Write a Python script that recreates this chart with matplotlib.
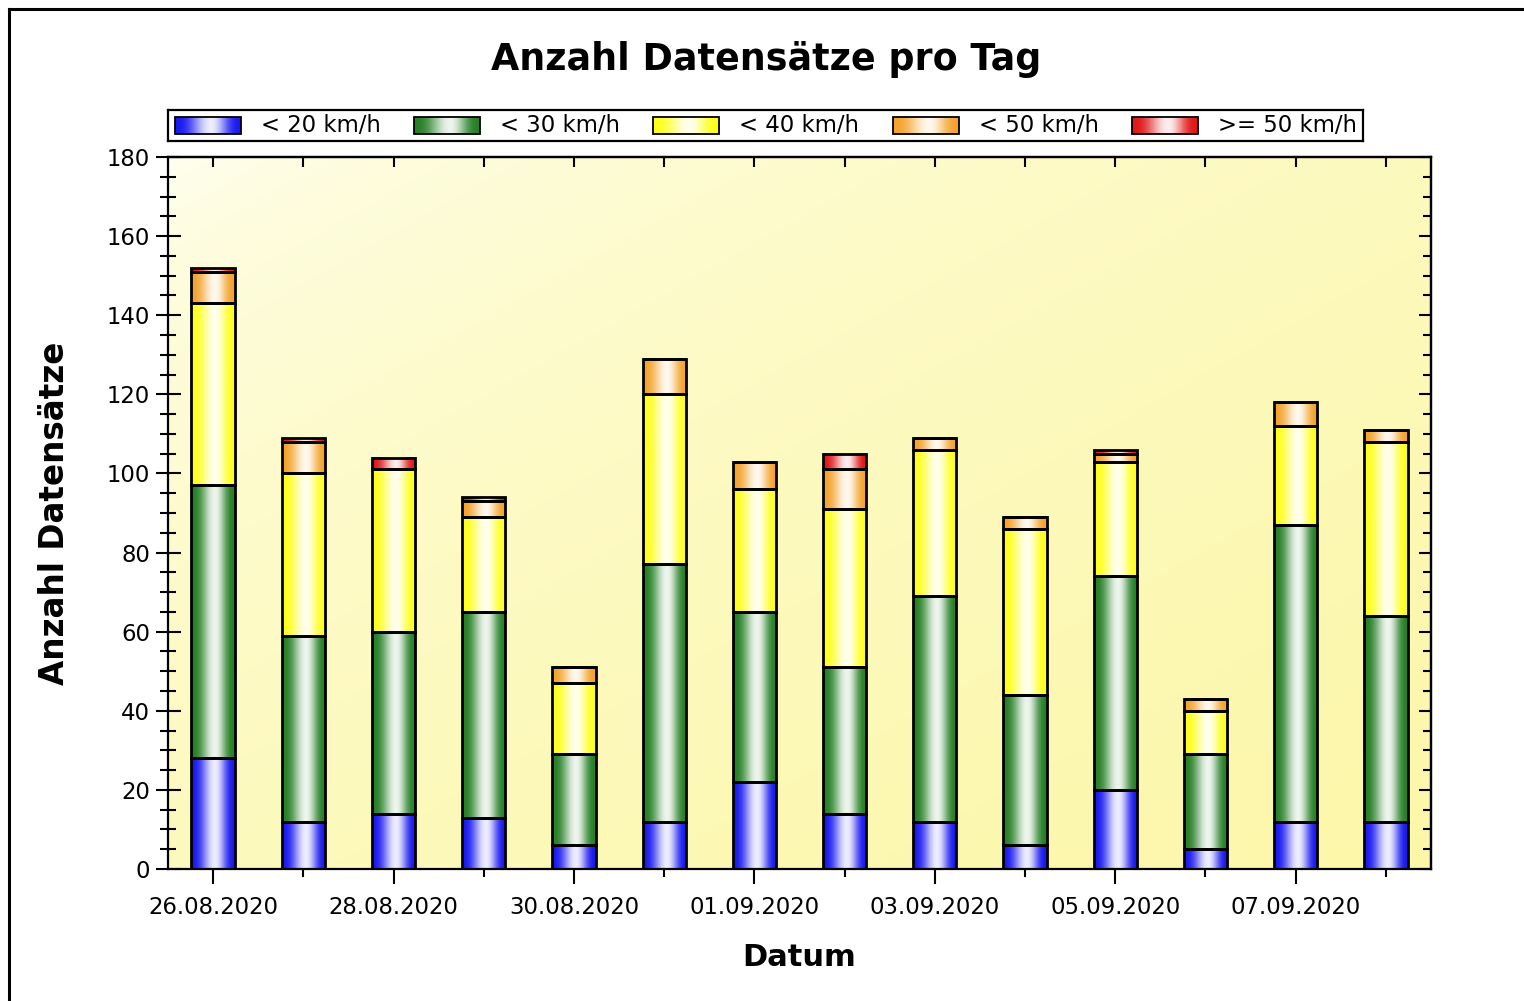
"""
Anzahl Datensaetze pro Tag - stacked bars with cylinder shading
"""

import numpy as np
import matplotlib
matplotlib.use('Agg')
import matplotlib.pyplot as plt
from matplotlib.colors import to_rgb
from matplotlib.lines import Line2D
from matplotlib.patches import Rectangle
from matplotlib.ticker import MultipleLocator

dates = ['26.08.2020', '27.08.2020', '28.08.2020', '29.08.2020', '30.08.2020',
         '31.08.2020', '01.09.2020', '02.09.2020', '03.09.2020', '04.09.2020',
         '05.09.2020', '06.09.2020', '07.09.2020', '08.09.2020']

series_labels = ['< 20 km/h', '< 30 km/h', '< 40 km/h', '< 50 km/h', '>= 50 km/h']

v_lt20 = [28, 12, 14, 13, 6, 12, 22, 14, 12, 6, 20, 5, 12, 12]
v_lt30 = [69, 47, 46, 52, 23, 65, 43, 37, 57, 38, 54, 24, 75, 52]
v_lt40 = [46, 41, 41, 24, 18, 43, 31, 40, 37, 42, 29, 11, 25, 44]
v_lt50 = [8, 8, 0, 4, 4, 9, 7, 10, 3, 3, 2, 3, 6, 3]
v_ge50 = [1, 1, 3, 1, 0, 0, 0, 4, 0, 0, 1, 0, 0, 0]

edge_colors = ['#1a1af0', '#268026', '#ffff1e', '#f4a42e', '#e01818']


def cylinder_strip(edge, n=64):
    """horizontal gradient: coloured edges, white highlight a bit right of centre"""
    t = np.linspace(0, 1, n)
    s = np.where(t < 0.55, (0.55 - t) / 0.55, (t - 0.55) / 0.45)
    f = 0.92 * np.cos(s * np.pi / 2) ** 2.6
    e = np.array(to_rgb(edge))
    rgb = e[None, :] * (1 - f[:, None]) + f[:, None]
    return rgb[None, :, :]


W, H = 1524, 1001
fig = plt.figure(figsize=(W / 100, H / 100), dpi=100)
ax = fig.add_axes([168 / W, 1 - 869 / H, (1431 - 168) / W, (869 - 157) / H])

# background gradient, light top-left to yellow bottom-right
gx, gy = np.meshgrid(np.linspace(0, 1, 200), np.linspace(0, 1, 200))
g = np.sqrt(np.clip((gx + gy) / 2, 0, 1))[..., None]
c0 = np.array(to_rgb('#fffff4'))
c1 = np.array(to_rgb('#fcf7a8'))
bg = c0 * (1 - g) + c1 * g
ax.imshow(bg, extent=(0, 1, 0, 1), transform=ax.transAxes, aspect='auto',
          zorder=0, interpolation='bilinear')

x = np.arange(len(dates))
bottom = np.zeros(len(dates))
for vals, col in zip([v_lt20, v_lt30, v_lt40, v_lt50, v_ge50], edge_colors):
    vals = np.array(vals, dtype=float)
    bars = ax.bar(x, vals, 0.48, bottom=bottom, facecolor='none',
                  edgecolor='black', linewidth=2.0, zorder=3)
    for b in bars:
        if b.get_height() <= 0:
            continue
        ax.imshow(cylinder_strip(col),
                  extent=(b.get_x(), b.get_x() + b.get_width(),
                          b.get_y(), b.get_y() + b.get_height()),
                  aspect='auto', zorder=2, interpolation='bilinear')
    bottom += vals

ax.set_xlim(-0.5, len(dates) - 0.5)
ax.set_ylim(0, 180)

# y axis
ax.set_yticks(range(0, 181, 20))
ax.yaxis.set_minor_locator(MultipleLocator(5))
ax.tick_params(axis='y', which='major', direction='inout', length=18, width=1.5,
               labelsize=16.4, pad=4)
ax.tick_params(axis='y', which='minor', direction='inout', length=11, width=1.5)

# x axis: label every other day
ax.set_xticks(x[::2])
ax.set_xticklabels(dates[::2])
ax.set_xticks(x[1::2], minor=True)
ax.tick_params(axis='x', which='major', direction='inout', length=21, width=1.5,
               labelsize=16.4, pad=9)
ax.tick_params(axis='x', which='minor', direction='out', length=6, width=1.5)

for sp in ax.spines.values():
    sp.set_linewidth(1.6)

secy = ax.secondary_yaxis('right')
secy.set_yticks(range(0, 181, 20))
secy.yaxis.set_minor_locator(MultipleLocator(5))
secy.tick_params(which='major', direction='in', length=9, width=1.5, labelright=False)
secy.tick_params(which='minor', direction='in', length=6, width=1.5)
secy.spines['right'].set_linewidth(1.6)

secx = ax.secondary_xaxis('top')
secx.set_xticks(x)
secx.tick_params(direction='in', length=7, width=1.5, labeltop=False)
secx.spines['top'].set_linewidth(1.6)

ax.set_xlabel('Datum', fontsize=22, fontweight='bold')
ax.xaxis.set_label_coords(0.5, (869 - 958) / (869 - 157))
ax.xaxis.label.set_va('center')
ax.set_ylabel('Anzahl Datensätze', fontsize=23.5, fontweight='bold')
ax.yaxis.set_label_coords((55 - 168) / (1431 - 168), 0.5)
ax.yaxis.label.set_va('center')

fig.text(0.503, 1 - 60 / H, 'Anzahl Datensätze pro Tag', fontsize=26.3,
         fontweight='bold', ha='center', va='center')

# legend box drawn by hand so the handles get the same shading
lax = fig.add_axes([168 / W, 1 - 141 / H, (1363 - 168) / W, 31 / H])
for i, (lab, col) in enumerate(zip(series_labels, edge_colors)):
    hx = 7 + 239.2 * i
    lax.imshow(cylinder_strip(col), extent=(hx, hx + 66, 7, 24), aspect='auto',
               interpolation='bilinear', zorder=1)
    lax.add_patch(Rectangle((hx, 7), 66, 17, facecolor='none', edgecolor='black',
                            linewidth=1.3, zorder=2))
    lax.text(hx + 86, 15.5, lab, fontsize=16.4, va='center', ha='left')
lax.set_xlim(0, 1195)
lax.set_ylim(0, 31)
lax.set_xticks([])
lax.set_yticks([])
for sp in lax.spines.values():
    sp.set_linewidth(1.6)

# outer frame (left and top edge only visible)
fig.add_artist(Line2D([8.5 / W, 8.5 / W], [0, 1 - 8.5 / H], transform=fig.transFigure,
                      color='black', linewidth=2.2))
fig.add_artist(Line2D([8.5 / W, 1], [1 - 8.5 / H, 1 - 8.5 / H], transform=fig.transFigure,
                      color='black', linewidth=2.2))

fig.savefig('out.png', dpi=100)
